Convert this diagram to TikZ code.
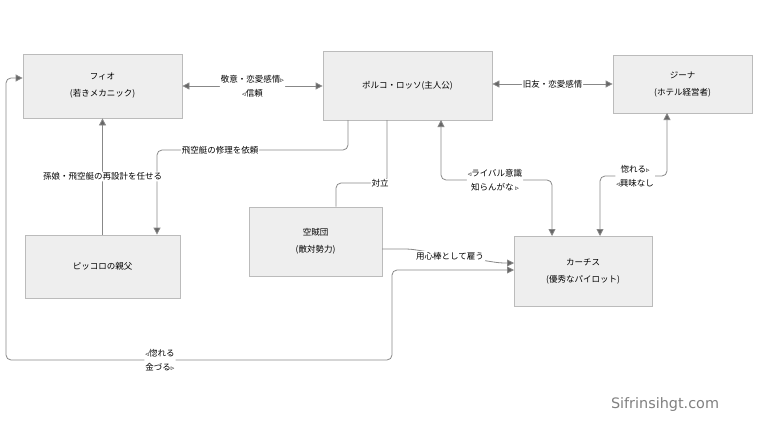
\documentclass[tikz,border=0pt]{standalone}
\usepackage{fontspec}
\setmainfont{Noto Sans CJK JP}
\newfontfamily\dv{DejaVu Sans}
\usetikzlibrary{arrows.meta}
\definecolor{bx}{HTML}{EEEEEE}
\definecolor{bd}{HTML}{BBBBBB}
\definecolor{ln}{HTML}{888888}
\definecolor{ah}{HTML}{666666}
\newcommand{\rt}{{\dv\scriptsize ▹}}
\newcommand{\lt}{{\dv\scriptsize ◃}}
\begin{document}
\begin{tikzpicture}[x=1pt,y=-1pt,
 box/.style={draw=bd,fill=bx,line width=0.8pt,align=center,font=\fontsize{8.5}{17}\selectfont,inner sep=0pt},
 con/.style={draw=ln,line width=0.8pt,rounded corners=5pt},
 arr/.style={-{Triangle[length=7pt,width=7pt,fill=ah]}},
 barr/.style={{Triangle[length=7pt,width=7pt,fill=ah]}-{Triangle[length=7pt,width=7pt,fill=ah]}},
 lab/.style={fill=white,font=\fontsize{8.5}{14}\selectfont,align=center,inner sep=1pt}]
\useasboundingbox (0,0) rectangle (760,428);
\node[box,minimum width=159pt,minimum height=64pt] (fio) at (102.5,86) {フィオ\\(若きメカニック)};
\node[box,minimum width=169pt,minimum height=69pt] (porco) at (407.5,85.5) {ポルコ・ロッソ(主人公)};
\node[box,minimum width=139pt,minimum height=58pt] (gina) at (682.5,84) {ジーナ\\(ホテル経営者)};
\node[box,minimum width=155pt,minimum height=63pt] (pic) at (102.5,266.5) {ピッコロの親父};
\node[box,minimum width=133pt,minimum height=69pt] (pir) at (315.5,241.5) {空賊団\\(敵対勢力)};
\node[box,minimum width=138pt,minimum height=70pt] (cur) at (583,271) {カーチス\\(優秀なパイロット)};
\coordinate (c1) at (6,360);
\draw[con,barr] (fio.east) -- node[lab]{敬意・恋愛感情\rt\\\lt 信頼} (porco.west |- fio.east);
\draw[con,barr] (porco.east |- gina.west) -- node[lab]{旧友・恋愛感情} (gina.west);
\draw[con,arr] (348,120) |- (220,150) node[lab]{飛空艇の修理を依頼} -| (pic.north -| 157,0);
\draw[con,arr] (pic.north) -- node[lab,pos=0.5]{孫娘・飛空艇の再設計を任せる} (fio.south);
\draw[con] (387,120) |- (380,183) node[lab]{対立} -| (pir.north -| 336,0);
\draw[con,barr] (441,120) |- (495,180) node[lab]{\lt ライバル意識\\知らんがな \rt} -| (552,236);
\draw[con,barr] (600,236) |- (635,176) node[lab]{惚れる\rt\\\lt 興味なし} -| (667,113);
\draw[con,arr] (382,249) -- (410,249) -- (500,263) -- (514,263);
\node[lab] (l1) at (450,256) {用心棒として雇う};
\draw[con,barr] (514,270) -| (392,360) -- (160,360) node[lab]{\lt 惚れる\\金づる\rt} -- (c1) |- (fio.west |- 0,78);
\node[text=gray,font=\dv\Large] (wm) at (665,405) {Sifrinsihgt.com};
\end{tikzpicture}
\end{document}
